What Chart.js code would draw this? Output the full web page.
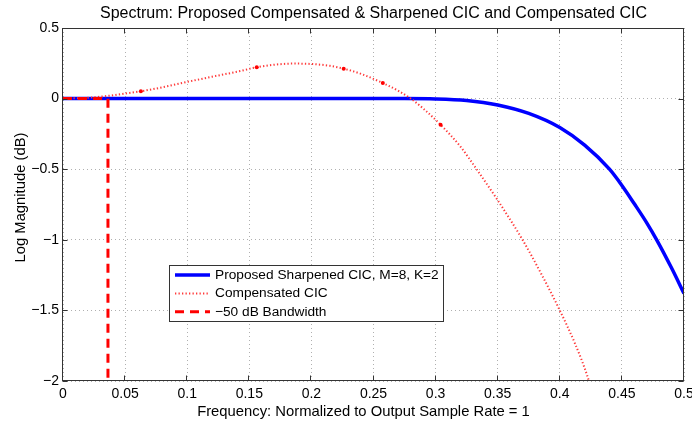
<!DOCTYPE html>
<html>
<head>
<meta charset="utf-8">
<title>Spectrum: Proposed Compensated &amp; Sharpened CIC and Compensated CIC</title>
<script src="https://cdn.jsdelivr.net/npm/chart.js@4.4.1/dist/chart.umd.min.js"></script>
<style>
    html, body { margin: 0; padding: 0; background: #fff; }
    #wrap { width: 692px; height: 423px; }
</style>
</head>
<body>
<div id="wrap"><canvas id="spectrum" width="692" height="423"></canvas></div>
<script>
// Proposed sharpened CIC (M=8, K=2): flat passband, rolls off past 0.3
const freqSharpened = [0, 0.05, 0.1, 0.15, 0.2, 0.25, 0.275, 0.3, 0.325, 0.35, 0.375, 0.4, 0.42, 0.44, 0.45, 0.46, 0.47, 0.478, 0.49, 0.5];
const magSharpened  = [0, 0, 0, 0, 0, 0, 0, -0.002, -0.013, -0.045, -0.105, -0.205, -0.33, -0.5, -0.615, -0.745, -0.88, -1.0, -1.2, -1.38];

// Compensated CIC: small passband bump, then a steep droop
const freqCompensated = [0, 0.02, 0.036, 0.05, 0.0627, 0.08, 0.1, 0.12, 0.14, 0.156, 0.17, 0.185, 0.2, 0.215, 0.226,
                         0.24, 0.2575, 0.27, 0.28, 0.29, 0.304, 0.32, 0.333, 0.35, 0.37, 0.385, 0.4, 0.412, 0.422, 0.43];
const magCompensated  = [0, 0.006, 0.019, 0.036, 0.052, 0.08, 0.118, 0.155, 0.19, 0.222, 0.24, 0.248, 0.245, 0.232, 0.212,
                         0.175, 0.11, 0.055, 0, -0.07, -0.185, -0.34, -0.5, -0.72, -1.0, -1.24, -1.5, -1.73, -1.96, -2.2];
const compensatedDots = [0.0627, 0.156, 0.226, 0.2575, 0.304];

// -50 dB bandwidth edge
const bandwidthEdge = 0.0362;

const xTicks = [0, 0.05, 0.1, 0.15, 0.2, 0.25, 0.3, 0.35, 0.4, 0.45, 0.5];
const yTicks = [-2, -1.5, -1, -0.5, 0, 0.5];

const TITLE = 'Spectrum: Proposed Compensated & Sharpened CIC and Compensated CIC';
const X_LABEL = 'Frequency: Normalized to Output Sample Rate = 1';
const Y_LABEL = 'Log Magnitude (dB)';
const FONT = '"Liberation Sans", Arial, Helvetica, sans-serif';
Chart.defaults.font.family = FONT;
Chart.defaults.color = '#000';

const toPoints = (xs, ys) => xs.map((x, i) => ({ x: x, y: ys[i] }));
const fmt = v => String(Number(v.toFixed(3))).replace('-', '\u2212');

// axes box with inward tick marks on all four sides, plus title and axis labels
const axesBox = {
    id: 'axesBox',
    afterDraw(chart) {
        const { ctx, chartArea: a, scales } = chart;
        const l = Math.round(a.left) - 0.5, r = Math.round(a.right) - 0.5;
        const t = Math.round(a.top) + 0.5, b = Math.round(a.bottom) - 0.5;
        ctx.save();
        ctx.strokeStyle = '#333';
        ctx.lineWidth = 1;
        ctx.strokeRect(l, t, r - l, b - t);
        ctx.beginPath();
        xTicks.forEach(v => {
            const px = Math.round(scales.x.getPixelForValue(v)) - 0.5;
            ctx.moveTo(px, b); ctx.lineTo(px, b - 5);
            ctx.moveTo(px, t); ctx.lineTo(px, t + 5);
        });
        yTicks.forEach(v => {
            const py = Math.round(scales.y.getPixelForValue(v)) + 0.5;
            ctx.moveTo(l, py); ctx.lineTo(l + 5, py);
            ctx.moveTo(r, py); ctx.lineTo(r - 5, py);
        });
        ctx.stroke();

        ctx.fillStyle = '#000';
        ctx.textAlign = 'center';
        ctx.font = '16px ' + FONT;
        ctx.textBaseline = 'alphabetic';
        ctx.fillText(TITLE, (a.left + a.right) / 2, 18);

        ctx.font = '14.8px ' + FONT;
        ctx.textBaseline = 'middle';
        ctx.fillText(X_LABEL, 363.5, 411.5);

        ctx.translate(21, 197.5);
        ctx.rotate(-Math.PI / 2);
        ctx.fillText(Y_LABEL, 0, 0);
        ctx.restore();
    }
};

// legend box inside the plot, lower left
const insetLegend = {
    id: 'insetLegend',
    afterDraw(chart) {
        const ctx = chart.ctx;
        const bx = 169.5, by = 265.5, bw = 274, bh = 56;
        ctx.save();
        ctx.fillStyle = '#fff';
        ctx.fillRect(bx, by, bw, bh);
        ctx.strokeStyle = '#333';
        ctx.lineWidth = 1;
        ctx.strokeRect(bx, by, bw, bh);
        ctx.font = '13.7px ' + FONT;
        ctx.textBaseline = 'middle';
        chart.data.datasets.forEach((ds, i) => {
            const y = 275 + i * 18.4;
            ctx.beginPath();
            ctx.setLineDash(ds.borderDash || []);
            ctx.lineWidth = ds.borderWidth;
            ctx.strokeStyle = ds.borderColor;
            ctx.moveTo(175, y);
            ctx.lineTo(210, y);
            ctx.stroke();
            ctx.setLineDash([]);
            ctx.fillStyle = '#000';
            ctx.fillText(ds.label, 215, y);
        });
        ctx.restore();
    }
};

new Chart(document.getElementById('spectrum'), {
    type: 'line',
    data: {
        datasets: [{
            label: 'Proposed Sharpened CIC, M=8, K=2',
            data: toPoints(freqSharpened, magSharpened),
            borderColor: '#0000ff',
            borderWidth: 3.5,
            pointRadius: 0,
            cubicInterpolationMode: 'monotone',
            order: 3
        }, {
            label: 'Compensated CIC',
            data: toPoints(freqCompensated, magCompensated),
            borderColor: '#ff3a3a',
            borderWidth: 2,
            borderDash: [1.3, 2.2],
            pointRadius: c => (c.raw && compensatedDots.includes(c.raw.x)) ? 2 : 0,
            pointBackgroundColor: '#ff0000',
            pointBorderWidth: 0,
            cubicInterpolationMode: 'monotone',
            order: 2
        }, {
            label: '\u221250 dB Bandwidth',
            data: [{ x: 0, y: 0 }, { x: bandwidthEdge, y: 0 }, { x: bandwidthEdge, y: yTicks[0] }],
            borderColor: '#ff0000',
            borderWidth: 3,
            borderDash: [9, 6],
            pointRadius: 0,
            tension: 0,
            order: 1
        }]
    },
    options: {
        responsive: false,
        animation: false,
        layout: { padding: { left: 0, right: 8, top: 28, bottom: 0 } },
        plugins: {
            legend: { display: false },
            tooltip: { enabled: false },
            title: { display: false }
        },
        scales: {
            x: {
                type: 'linear',
                min: 0,
                max: 0.5,
                afterBuildTicks: s => { s.ticks = xTicks.map(v => ({ value: v })); },
                afterFit: s => { s.height = 42; s.paddingLeft = 0; s.paddingRight = 0; },
                ticks: { font: { size: 14 }, padding: 5, maxRotation: 0, autoSkip: false, callback: v => fmt(v) },
                grid: { color: '#b0b0b0', lineWidth: 1, drawTicks: false },
                border: { display: false, dash: [1, 3] }
            },
            y: {
                min: -2,
                max: 0.5,
                afterBuildTicks: s => { s.ticks = yTicks.map(v => ({ value: v })); },
                afterFit: s => { s.width = 63; s.paddingTop = 0; s.paddingBottom = 0; },
                ticks: { font: { size: 14 }, padding: 4, autoSkip: false, callback: v => fmt(v) },
                grid: { color: '#b0b0b0', lineWidth: 1, drawTicks: false },
                border: { display: false, dash: [1, 3] }
            }
        }
    },
    plugins: [axesBox, insetLegend]
});
</script>
</body>
</html>
